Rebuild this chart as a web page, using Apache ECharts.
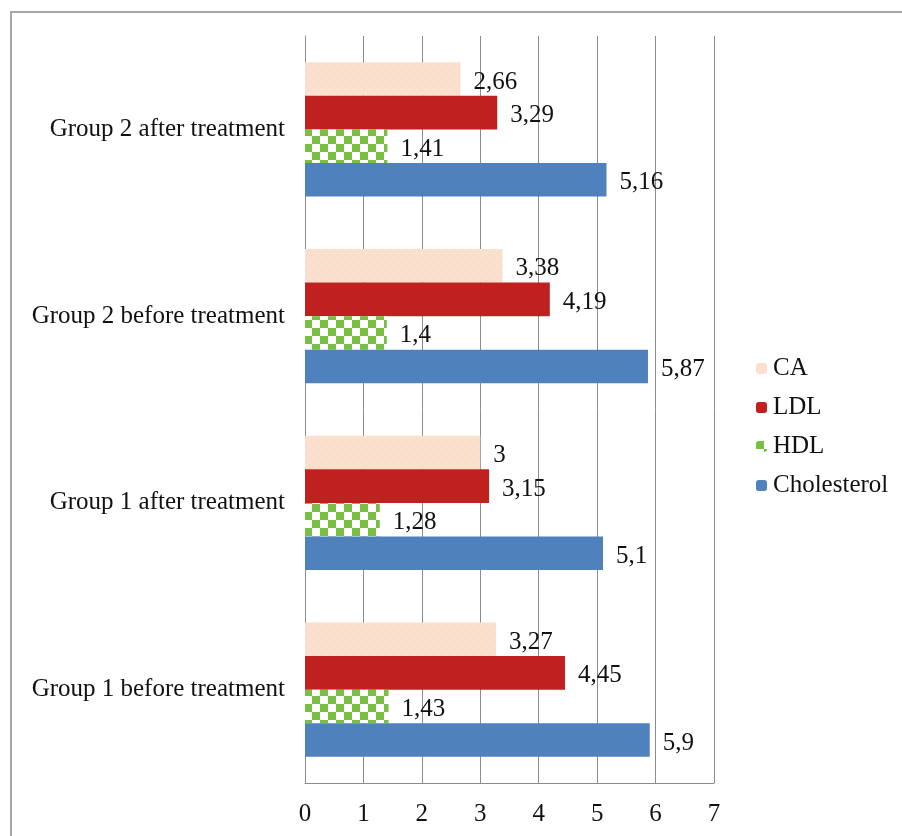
<!DOCTYPE html>
<html>
<head>
<meta charset="utf-8">
<script src="https://cdn.jsdelivr.net/npm/echarts@6/dist/echarts.min.js"></script>
<style>html,body{margin:0;padding:0;background:#fff;}#c{width:902px;height:836px;}</style>
</head>
<body>
<div id="c"></div>
<script>
const categories = ['Group 1 before treatment', 'Group 1 after treatment', 'Group 2 before treatment', 'Group 2 after treatment'];
const cholesterol = [5.9, 5.1, 5.87, 5.16];
const hdl = [1.43, 1.28, 1.4, 1.41];
const ldl = [4.45, 3.15, 4.19, 3.29];
const ca = [3.27, 3, 3.38, 2.66];
const xTicks = [0, 1, 2, 3, 4, 5, 6, 7];

function dotPattern() {
  const c = document.createElement('canvas');
  c.width = 8; c.height = 8;
  const g = c.getContext('2d');
  g.fillStyle = '#fbdfcd'; g.fillRect(0, 0, 8, 8);
  g.fillStyle = '#fff3ea'; g.fillRect(1, 1, 1, 1); g.fillRect(5, 5, 1, 1);
  return c;
}
function checkPattern() {
  const s = 8;
  const c = document.createElement('canvas');
  c.width = s * 2; c.height = s * 2;
  const g = c.getContext('2d');
  g.fillStyle = '#ffffff'; g.fillRect(0, 0, s * 2, s * 2);
  g.fillStyle = '#78c044'; g.fillRect(0, 0, s, s); g.fillRect(s, s, s, s);
  return c;
}

const font = '"Liberation Serif", "Times New Roman", serif';
const fs = 25;
const fmt = p => String(p.value).replace('.', ',');
const lbl = { show: true, position: 'right', distance: 13, offset: [0, 3], color: '#111', fontFamily: font, fontSize: fs, formatter: fmt };

const chart = echarts.init(document.getElementById('c'), null, { renderer: 'canvas' });
chart.setOption({
  animation: false,
  backgroundColor: '#fff',
  graphic: [{ type: 'rect', shape: { x: 11, y: 12, width: 1000, height: 1000 }, style: { fill: 'none', stroke: '#a6a6a6', lineWidth: 2 }, z: -1 }],
  grid: { left: 305, right: 188, top: 36, bottom: 53, containLabel: false },
  legend: {
    orient: 'vertical', left: 751, top: 351, itemWidth: 11, itemHeight: 11, itemGap: 14,
    data: ['CA', 'LDL', 'HDL', 'Cholesterol'],
    textStyle: { fontFamily: font, fontSize: fs, color: '#111', padding: [0, 0, 0, 1] }
  },
  xAxis: {
    type: 'value', min: 0, max: 7, interval: 1,
    axisLine: { show: true, lineStyle: { color: '#8c8c8c' } },
    axisTick: { show: false },
    splitLine: { show: true, lineStyle: { color: '#8c8c8c', width: 1 } },
    axisLabel: { margin: 19, color: '#111', fontFamily: font, fontSize: fs, formatter: v => xTicks.includes(v) ? String(v) : '' }
  },
  yAxis: {
    type: 'category', data: categories,
    axisLine: { show: true, lineStyle: { color: '#8c8c8c' } },
    axisTick: { show: false },
    axisLabel: { margin: 20, color: '#111', fontFamily: font, fontSize: fs }
  },
  series: [
    { name: 'CA', type: 'bar', data: ca, barGap: '0%', barCategoryGap: '28%', itemStyle: { color: { image: dotPattern(), repeat: 'repeat' } }, label: lbl },
    { name: 'LDL', type: 'bar', data: ldl, barGap: '0%', barCategoryGap: '28%', itemStyle: { color: '#c0211f' }, label: lbl },
    { name: 'HDL', type: 'bar', data: hdl, barGap: '0%', barCategoryGap: '28%', itemStyle: { color: { image: checkPattern(), repeat: 'repeat' } }, label: lbl },
    { name: 'Cholesterol', type: 'bar', data: cholesterol, barGap: '0%', barCategoryGap: '28%', itemStyle: { color: '#4f81bd' }, label: lbl }
  ]
});
</script>
</body>
</html>
